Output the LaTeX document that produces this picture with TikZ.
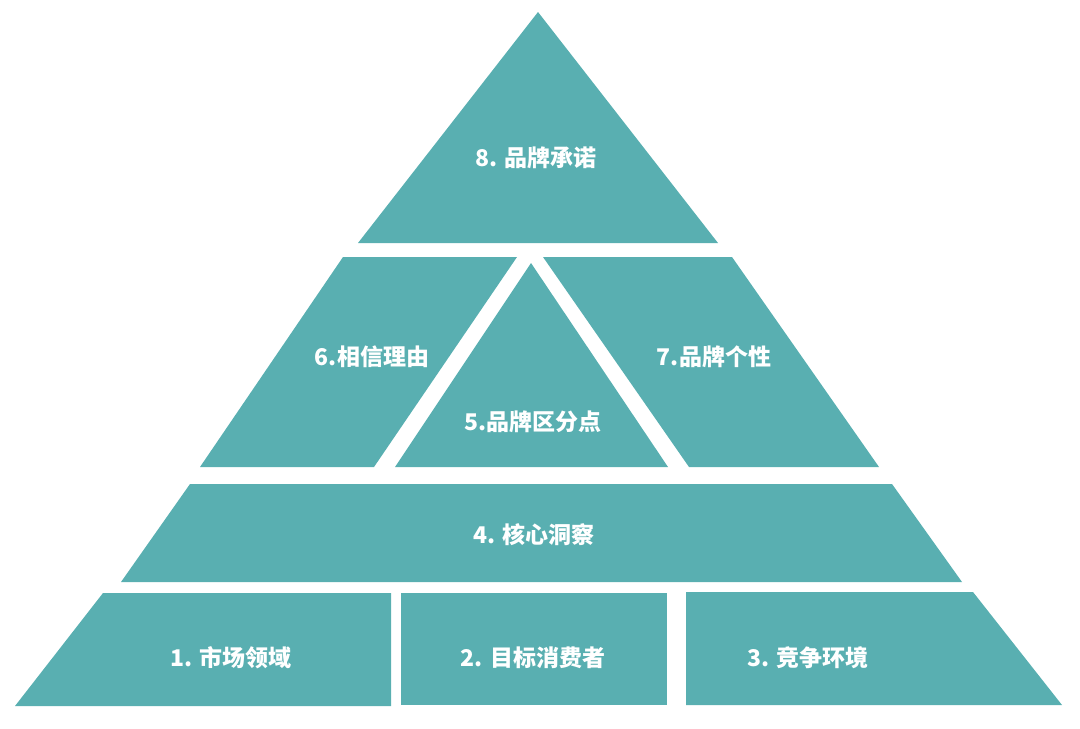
\documentclass[tikz,border=0pt]{standalone}
\usepackage{fontspec}
\newfontfamily\cjk{Noto Sans CJK SC}
\definecolor{pyrteal}{RGB}{89, 175, 177}
\usepackage{tikz}

\begin{document}
\begin{tikzpicture}[x=0.5pt, y=-0.5pt,
  block/.style={fill=pyrteal},
  lbl/.style={text=white, font=\cjk\bfseries\fontsize{11.5}{13}\selectfont, inner sep=0pt},
]
\useasboundingbox (0,0) rectangle (1080,728);

% Top
\fill[block] (538,12) -- (718,243) -- (358,243) -- cycle;
\node[lbl] (promise) at (536,158) {8. 品牌承诺};

% Middle row
\fill[block] (343,257) -- (517,257) -- (374,467) -- (200,467) -- cycle;
\fill[block] (531,263) -- (668,467) -- (395,467) -- cycle;
\fill[block] (543,257) -- (732,257) -- (879,467) -- (689,467) -- cycle;
\node[lbl] (reason) at (372,357) {6.相信理由};
\node[lbl] (diff) at (533,422) {5.品牌区分点};
\node[lbl] (persona) at (714,357) {7.品牌个性};

% Insight band
\fill[block] (190,484) -- (892,484) -- (962,582) -- (121,582) -- cycle;
\node[lbl] (insight) at (534,535) {4. 核心洞察};

% Bottom row
\fill[block] (103,593) -- (391,593) -- (391,706) -- (15,706) -- cycle;
\fill[block] (401,593) -- (667,593) -- (667,705) -- (401,705) -- cycle;
\fill[block] (686,592) -- (973,592) -- (1062,705) -- (686,705) -- cycle;
\node[lbl] (market) at (231,658) {1. 市场领域};
\node[lbl] (target) at (533,658) {2. 目标消费者};
\node[lbl] (compete) at (808,658) {3. 竞争环境};
\end{tikzpicture}
\end{document}
